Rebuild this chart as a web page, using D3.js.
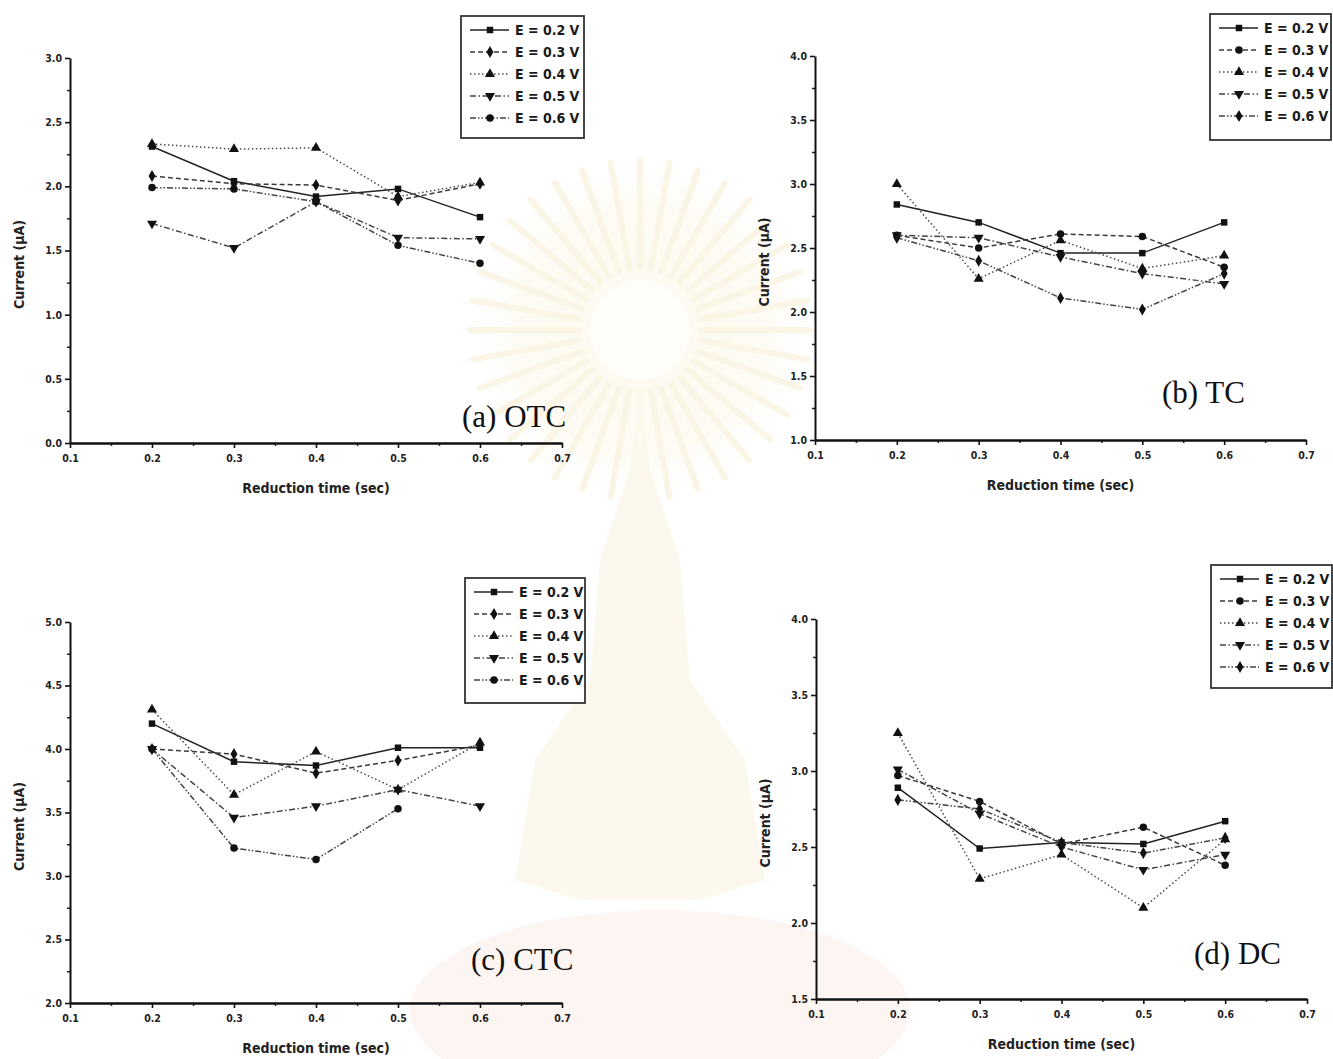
<!DOCTYPE html>
<html>
<head>
<meta charset="utf-8">
<script src="https://cdn.jsdelivr.net/npm/d3@7"></script>
<style>
  html, body { margin: 0; padding: 0; background: #fff; }
  svg { display: block; }
  .tick text { font-family: "DejaVu Sans Condensed", "DejaVu Sans", sans-serif; font-weight: bold; font-size: 10.5px; fill: #222; }
  .axis-title { font-family: "DejaVu Sans Condensed", "DejaVu Sans", sans-serif; font-weight: bold; font-size: 14px; fill: #222; }
  .legend-text { font-family: "DejaVu Sans Condensed", "DejaVu Sans", sans-serif; font-weight: bold; font-size: 14px; fill: #1a1a1a; }
  .panel-label { font-family: "Liberation Serif", "Times New Roman", serif; font-size: 31px; fill: #111; }
</style>
</head>
<body>
<div id="chart"></div>
<script>
// reduction time (sec)
const xValues = [0.2, 0.3, 0.4, 0.5, 0.6];
const xTicks = [0.1, 0.2, 0.3, 0.4, 0.5, 0.6, 0.7];
const seriesNames = ["E = 0.2 V", "E = 0.3 V", "E = 0.4 V", "E = 0.5 V", "E = 0.6 V"];

// current (uA), one row per potential
const otcValues = [
  [2.31, 2.04, 1.92, 1.98, 1.76],
  [2.08, 2.02, 2.01, 1.89, 2.02],
  [2.33, 2.29, 2.30, 1.92, 2.03],
  [1.71, 1.52, 1.88, 1.60, 1.59],
  [1.99, 1.98, 1.88, 1.54, 1.40]
];
const tcValues = [
  [2.84, 2.70, 2.46, 2.46, 2.70],
  [2.60, 2.50, 2.61, 2.59, 2.35],
  [3.00, 2.26, 2.56, 2.34, 2.44],
  [2.60, 2.58, 2.43, 2.30, 2.22],
  [2.58, 2.40, 2.11, 2.02, 2.30]
];
const ctcValues = [
  [4.20, 3.90, 3.87, 4.01, 4.01],
  [4.00, 3.96, 3.81, 3.91, 4.03],
  [4.31, 3.64, 3.98, 3.68, 4.05],
  [4.00, 3.46, 3.55, 3.68, 3.55],
  [4.00, 3.22, 3.13, 3.53, null]
];
const dcValues = [
  [2.89, 2.49, 2.53, 2.52, 2.67],
  [2.97, 2.80, 2.52, 2.63, 2.38],
  [3.25, 2.29, 2.45, 2.10, 2.55],
  [3.01, 2.72, 2.50, 2.35, 2.45],
  [2.81, 2.75, 2.53, 2.46, 2.56]
];

const otcYTicks = [0.0, 0.5, 1.0, 1.5, 2.0, 2.5, 3.0];
const tcYTicks = [1.0, 1.5, 2.0, 2.5, 3.0, 3.5, 4.0];
const ctcYTicks = [2.0, 2.5, 3.0, 3.5, 4.0, 4.5, 5.0];
const dcYTicks = [1.5, 2.0, 2.5, 3.0, 3.5, 4.0];

const panelLabels = ["(a) OTC", "(b) TC", "(c) CTC", "(d) DC"];

const W = 1333, H = 1059;

const svg = d3.select("#chart").append("svg")
  .attr("width", W)
  .attr("height", H);

// very faint watermark behind the plots
const wm = svg.append("g").attr("class", "watermark");
const defs = svg.append("defs");
const glow = defs.append("radialGradient").attr("id", "glow");
glow.append("stop").attr("offset", "0%").attr("stop-color", "#fdf9ee");
glow.append("stop").attr("offset", "70%").attr("stop-color", "#fefbf4");
glow.append("stop").attr("offset", "100%").attr("stop-color", "#ffffff").attr("stop-opacity", 0);
wm.append("circle").attr("cx", 640).attr("cy", 330).attr("r", 180).attr("fill", "url(#glow)");
d3.range(0, 360, 10).forEach(a => {
  const r = a * Math.PI / 180;
  wm.append("line")
    .attr("x1", 640 + Math.cos(r) * 62).attr("y1", 330 + Math.sin(r) * 62)
    .attr("x2", 640 + Math.cos(r) * 170).attr("y2", 330 + Math.sin(r) * 170)
    .attr("stroke", "#fbf5e6").attr("stroke-width", 6).attr("stroke-linecap", "round");
});
wm.append("circle").attr("cx", 640).attr("cy", 330).attr("r", 50).attr("fill", "#fffdf8");
wm.append("path")
  .attr("d", "M640,380 L650,470 L680,560 L690,680 L745,760 L765,880 L700,900 L580,900 L515,880 L535,760 L590,680 L600,560 L630,470 Z")
  .attr("fill", "#fcf8ee");
wm.append("ellipse").attr("cx", 660).attr("cy", 1010).attr("rx", 250).attr("ry", 100).attr("fill", "#fdf5f2");

const markerTypes = {
  square: d3.symbol().type(d3.symbolSquare).size(42),
  circle: d3.symbol().type(d3.symbolCircle).size(44),
  up: d3.symbol().type(d3.symbolTriangle).size(44),
  down: d3.symbol().type(d3.symbolTriangle).size(44),
  diamond: d3.symbol().type(d3.symbolDiamond).size(42)
};
const markersAC = ["square", "diamond", "up", "down", "circle"];
const markersBD = ["square", "circle", "up", "down", "diamond"];
const dashes = [null, "5,3", "1.5,2.5", "6,2.5,1.5,2.5", "6,2,1.5,2,1.5,2"];
const strokes = ["#222", "#3a3a3a", "#4a4a4a", "#444", "#444"];

const panels = [
  { values: otcValues, yTicks: otcYTicks, markers: markersAC, label: panelLabels[0],
    left: 70, right: 562, top: 58, bottom: 443,
    legend: { x: 461, y: 16, w: 123, h: 122 }, labelPos: [462, 427] },
  { values: tcValues, yTicks: tcYTicks, markers: markersBD, label: panelLabels[1],
    left: 815, right: 1306, top: 56, bottom: 440,
    legend: { x: 1210, y: 14, w: 121, h: 126 }, labelPos: [1162, 403] },
  { values: ctcValues, yTicks: ctcYTicks, markers: markersAC, label: panelLabels[2],
    left: 70, right: 562, top: 622, bottom: 1003,
    legend: { x: 465, y: 578, w: 120, h: 125 }, labelPos: [471, 970] },
  { values: dcValues, yTicks: dcYTicks, markers: markersBD, label: panelLabels[3],
    left: 816, right: 1307, top: 619, bottom: 999,
    legend: { x: 1211, y: 565, w: 121, h: 123 }, labelPos: [1194, 964] }
];

function drawMarker(g, type, x, y) {
  g.append("path")
    .attr("d", markerTypes[type]())
    .attr("transform", `translate(${x},${y})` + (type === "down" ? " rotate(180)" : ""))
    .attr("fill", "#111");
}

panels.forEach(p => {
  const x = d3.scaleLinear().domain([xTicks[0], xTicks[xTicks.length - 1]]).range([p.left, p.right]);
  const y = d3.scaleLinear().domain([p.yTicks[0], p.yTicks[p.yTicks.length - 1]]).range([p.bottom, p.top]);

  const g = svg.append("g");

  // minor ticks
  const xMinor = d3.range(xTicks.length - 1).map(i => (xTicks[i] + xTicks[i + 1]) / 2);
  const yMinor = d3.range(p.yTicks.length - 1).map(i => (p.yTicks[i] + p.yTicks[i + 1]) / 2);

  g.append("g")
    .attr("transform", `translate(0,${p.bottom})`)
    .call(d3.axisBottom(x).tickValues(xMinor).tickSize(3).tickSizeOuter(0).tickFormat(""))
    .call(a => a.select(".domain").remove())
    .call(a => a.selectAll("line").attr("stroke", "#222").attr("stroke-width", 1.5));
  g.append("g")
    .attr("transform", `translate(${p.left},0)`)
    .call(d3.axisLeft(y).tickValues(yMinor).tickSize(3).tickSizeOuter(0).tickFormat(""))
    .call(a => a.select(".domain").remove())
    .call(a => a.selectAll("line").attr("stroke", "#222").attr("stroke-width", 1.5));

  // major axes
  g.append("g")
    .attr("transform", `translate(0,${p.bottom})`)
    .call(d3.axisBottom(x).tickValues(xTicks).tickSize(5).tickSizeOuter(0).tickPadding(7).tickFormat(d3.format(".1f")))
    .call(a => a.select(".domain").attr("stroke", "#111").attr("stroke-width", 2.6))
    .call(a => a.selectAll("line").attr("stroke", "#111").attr("stroke-width", 1.6));
  g.append("g")
    .attr("transform", `translate(${p.left},0)`)
    .call(d3.axisLeft(y).tickValues(p.yTicks).tickSize(5).tickSizeOuter(0).tickPadding(3).tickFormat(d3.format(".1f")))
    .call(a => a.select(".domain").attr("stroke", "#111").attr("stroke-width", 2))
    .call(a => a.selectAll("line").attr("stroke", "#111").attr("stroke-width", 1.6));

  // axis titles
  g.append("text")
    .attr("class", "axis-title")
    .attr("x", (p.left + p.right) / 2)
    .attr("y", p.bottom + 50)
    .attr("text-anchor", "middle")
    .text("Reduction time (sec)");
  g.append("text")
    .attr("class", "axis-title")
    .attr("transform", `translate(${p.left - 46},${(p.top + p.bottom) / 2 + 14}) rotate(-90)`)
    .attr("text-anchor", "middle")
    .text("Current (μA)");

  // series
  const line = d3.line()
    .defined(d => d[1] !== null)
    .x(d => x(d[0]))
    .y(d => y(d[1]));

  p.values.forEach((vals, i) => {
    const pts = xValues.map((xv, j) => [xv, vals[j]]);
    g.append("path")
      .datum(pts)
      .attr("d", line)
      .attr("fill", "none")
      .attr("stroke", strokes[i])
      .attr("stroke-width", 1.5)
      .attr("stroke-dasharray", dashes[i]);
    pts.filter(d => d[1] !== null).forEach(d => drawMarker(g, p.markers[i], x(d[0]), y(d[1])));
  });

  // legend
  const lg = g.append("g").attr("transform", `translate(${p.legend.x},${p.legend.y})`);
  lg.append("rect")
    .attr("width", p.legend.w)
    .attr("height", p.legend.h)
    .attr("fill", "#fff")
    .attr("stroke", "#333")
    .attr("stroke-width", 1.8);
  seriesNames.forEach((name, i) => {
    const ry = 14 + i * 22;
    lg.append("line")
      .attr("x1", 9).attr("x2", 48)
      .attr("y1", ry).attr("y2", ry)
      .attr("stroke", strokes[i])
      .attr("stroke-width", 1.5)
      .attr("stroke-dasharray", dashes[i]);
    drawMarker(lg, p.markers[i], 29, ry);
    lg.append("text")
      .attr("class", "legend-text")
      .attr("x", 54)
      .attr("y", ry + 5)
      .text(name);
  });

  // panel label
  g.append("text")
    .attr("class", "panel-label")
    .attr("x", p.labelPos[0])
    .attr("y", p.labelPos[1])
    .text(p.label);
});
</script>
</body>
</html>
